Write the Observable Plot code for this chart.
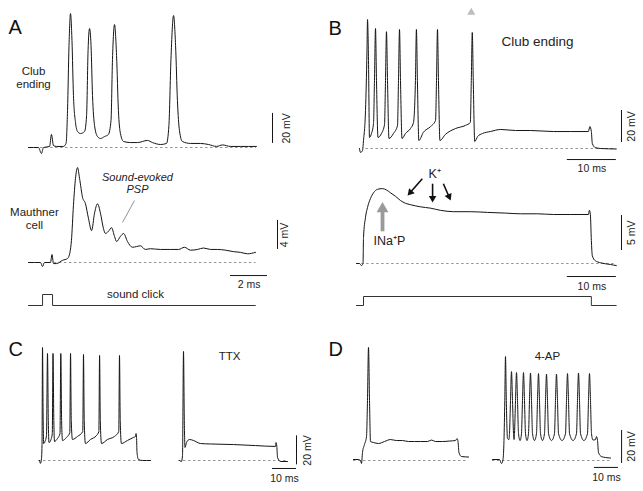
<!DOCTYPE html>
<html><head><meta charset="utf-8">
<script src="https://cdn.jsdelivr.net/npm/d3@7"></script>
<script src="https://cdn.jsdelivr.net/npm/@observablehq/plot@0.6"></script>
<style>
html,body{margin:0;padding:0;background:#fff;}
#fig{position:relative;width:643px;height:491px;overflow:hidden;background:#fff;}
</style></head><body><div id="fig"></div>
<script>
// ---------- DATA: [time (ms), membrane potential (mV)] ----------
const aClub = [[0,0],[0.54,0],[0.70,-4],[0.81,0],[1.14,0.7],[1.24,8.7],[1.35,1.3],[1.51,0.7],[1.89,0.7],[2.03,2.7],[2.11,24.7],[2.19,68],[2.27,89.3],[2.35,71.3],[2.43,34.7],[2.54,16.7],[2.65,10.7],[2.81,9.3],[3.03,10.7],[3.14,21.3],[3.22,64.7],[3.30,79.3],[3.38,68],[3.46,34.7],[3.57,14.7],[3.73,7.3],[3.89,6],[4.11,7.3],[4.32,8.7],[4.46,18],[4.54,58.7],[4.65,82],[4.76,61.3],[4.86,24.7],[4.97,9.3],[5.14,4],[5.51,3.3],[5.89,3.3],[6.43,4.7],[6.70,3.3],[7.14,2],[7.46,2.7],[7.59,14.7],[7.70,58.7],[7.84,88],[7.95,68],[8.05,31.3],[8.16,11.3],[8.32,4],[8.76,2.7],[9.30,2.7],[9.73,2],[10.16,0.7],[10.49,1.7],[10.92,0.7],[11.46,0.7],[12.32,0.7]];
const aMauthner = [[0,0],[0.65,0],[0.76,-0.55],[0.86,0],[1.19,0],[1.27,1.1],[1.35,-0.15],[1.51,-0.15],[1.84,0.3],[2.11,0.55],[2.24,1.4],[2.32,3.0],[2.43,7.9],[2.54,11.6],[2.65,13.1],[2.76,11.6],[2.92,9.0],[3.08,8.1],[3.24,6.1],[3.41,4.4],[3.57,6.8],[3.73,8.1],[3.89,6.8],[4.05,4.7],[4.16,4.0],[4.32,4.3],[4.49,4.8],[4.65,3.6],[4.76,2.9],[4.97,3.6],[5.14,4.0],[5.35,2.9],[5.62,2.1],[5.84,2.2],[6.05,2.3],[6.32,1.8],[6.59,1.9],[7.14,1.8],[7.68,1.8],[8.11,1.8],[8.43,2.1],[8.76,1.7],[9.14,1.8],[9.46,2.0],[9.84,1.8],[10.22,1.8],[10.65,1.7],[11.08,1.5],[11.46,1.4],[11.84,1.2],[12.27,1.4]];
const aClick = [[0,0],[0.76,1],[1.30,0],[12.27,0]];
const bClub = [[-0.82,0],[-0.61,-2.5],[-0.2,-1.25],[0,5],[0.41,23.8],[0.71,61],[0.82,80.6],[1.02,55],[1.22,6.9],[1.63,9.4],[2.04,15.6],[2.24,42.5],[2.45,75],[2.65,42.5],[2.96,6.9],[3.67,9.4],[4.29,15],[4.49,42.5],[4.69,73],[4.9,42.5],[5.2,6.25],[6.12,9.4],[6.94,14.4],[7.14,42.5],[7.35,74.4],[7.55,42.5],[7.86,6.25],[8.57,9.4],[9.59,12.5],[10.2,16.25],[10.6,42.5],[10.8,74.4],[11.0,42.5],[11.3,5],[12.2,10],[13.7,13.75],[14.7,17.5],[14.9,42.5],[15.1,74.4],[15.3,42.5],[15.6,5],[16.7,8.75],[18.8,12.5],[20.8,14.4],[21.8,16.25],[22.0,42.5],[22.2,72.5],[22.4,42.5],[22.7,4.4],[23.3,7.5],[24.3,9.4],[25.9,10.6],[28.0,11.9],[31.0,11.25],[34.1,11.25],[38.8,10.6],[42.2,10.6],[45.9,10.6],[46.2,13.75],[46.5,10.6],[46.7,3.1],[47.3,0.6],[48.4,0],[51.6,-0.3]];
const bSoma = [[-1.43,0],[-0.82,0],[-0.41,-0.3],[-0.1,0],[0,3.7],[0.41,6.6],[0.82,8.0],[1.43,9.3],[2.04,10.1],[2.86,10.6],[3.88,10.7],[4.69,10.5],[5.51,10.1],[6.53,9.6],[7.55,9.0],[8.57,8.6],[9.59,8.4],[11.6,8.1],[13.7,7.9],[15.7,7.6],[18.4,7.4],[21.8,7.4],[25.3,7.3],[29.0,7.2],[32.0,7.1],[35.5,7.1],[38.8,7.0],[42.2,7.0],[45.9,7.0],[46.1,7.6],[46.3,7.0],[46.5,3.3],[46.7,1.1],[47.3,0.4],[48.4,0.1],[50.4,-0.14],[51.6,-0.3]];
const bStep = [[-1.43,0],[0,1],[46.5,0],[51.6,0]];
const cControl = [[-0.83,0],[-0.42,-2],[0,1.4],[0.21,10.3],[0.42,77.9],[0.7,27.6],[0.92,11.7],[1.46,13.1],[2.08,17.2],[2.5,73.8],[2.83,27.6],[3.13,12.4],[3.96,14.5],[4.5,18.6],[4.79,73.8],[5.13,27.6],[5.42,13.1],[6.67,15.2],[7.71,18.6],[8.04,73.8],[8.38,27.6],[8.75,13.8],[10.4,15.9],[11.8,19.3],[12.1,73.8],[12.4,27.6],[12.9,14.5],[15.0,16.6],[17.2,20],[17.5,73.1],[17.8,27.6],[18.3,11.7],[20.4,14.5],[22.9,17.2],[23.9,20],[24.2,72.4],[24.5,27.6],[25.0,11.7],[27.5,14.5],[30.4,16.6],[32.2,20],[32.5,72.4],[32.8,27.6],[33.3,11.7],[35.8,13.8],[38.3,15.9],[39.2,16.6],[39.4,18.6],[39.6,15.9],[39.8,5.5],[40.4,0.7],[42.1,0],[45.4,0]];
const cTTX = [[-1.25,0],[-0.42,-0.7],[0,3.4],[0.42,75.2],[0.75,27.6],[1.04,9.0],[1.67,12.4],[2.92,14.5],[4.58,13.8],[7.5,11.7],[11.7,11.4],[21.25,11.0],[30.4,10.3],[38.75,9.7],[38.96,12.4],[39.3,9.7],[39.6,2.1],[40.8,-0.7],[43.75,-0.7]];
const dControl = [[-3.75,0.6],[-1.67,0.6],[-0.83,0],[-0.42,-1.8],[0,4.8],[0.83,9.7],[1.67,14.5],[2.08,36.4],[2.5,68.5],[2.92,36.4],[3.33,11.5],[4.58,10.9],[6.67,10.3],[9.17,11.5],[11.67,12.7],[14.17,12.1],[16.67,12.1],[19.17,11.5],[21.67,11.5],[24.17,11.5],[27.08,11.5],[28.75,12.4],[30.4,11.5],[33.33,11.5],[36.25,11.8],[38.75,12.1],[39.4,13.3],[39.8,11.5],[40.2,4.8],[41.25,2.4],[44.2,2.1]];
const d4AP = [[-4.58,0.6],[-1.67,0.6],[-0.83,-1.8],[-0.2,0.6],[0.2,12.1],[0.54,36.4],[0.83,63.0],[1.17,36.4],[1.67,13.3],[2.29,12.7],
 [2.5,16.4],[2.92,36.4],[3.33,53.9],[3.75,36.4],[4.17,16.4],[4.4,12.7],
 [4.59,16.4],[5.0,36.4],[5.42,53.3],[5.84,36.4],[6.25,16.4],[6.9,12.1],
 [7.5,16.4],[7.91,36.4],[8.33,53.3],[8.75,36.4],[9.16,16.4],[9.8,12.1],
 [10.42,16.4],[10.83,36.4],[11.25,53.0],[11.67,36.4],[12.08,16.4],[12.9,12.1],
 [13.75,16.4],[14.16,36.4],[14.58,52.7],[15.0,36.4],[15.41,16.4],[16.25,12.1],
 [17.09,16.4],[17.5,36.4],[17.92,52.4],[18.34,36.4],[18.75,16.4],[20.0,12.1],
 [21.25,16.4],[21.66,36.4],[22.08,52.4],[22.5,36.4],[22.91,16.4],[24.4,12.1],
 [25.84,16.4],[26.25,36.4],[26.67,52.7],[27.09,36.4],[27.5,16.4],[29.0,12.1],
 [30.42,16.4],[30.83,36.4],[31.25,53.0],[31.67,36.4],[32.08,16.4],[33.5,12.1],
 [35.0,16.4],[35.41,36.4],[35.83,52.7],[36.25,36.4],[36.66,16.4],[37.3,12.4],
 [38.33,12.7],[38.75,14.5],[39.17,12.1],[39.58,4.8],[40.8,2.4],[42.5,1.8],[44.6,1.5]];

// dashed 0-mV baselines: [start ms, end ms]
const aClubBase = [0.65, 12.32];
const aMauthBase = [1.4, 12.3];
const bClubBase = [0.5, 51.6];
const bSomaBase = [-1.4, 51.6];
const cControlBase = [-1.25, 45.4];
const cTTXBase = [-1.67, 43.75];
const dControlBase = [-3.75, 44.2];
const d4APBase = [-4.58, 44.6];

// scale bar magnitudes
const barsMV = [20, 4, 20, 5, 20, 20];     // A club, A Mauthner, B club, B soma, C, D
const barsMS = [2, 10, 10, 10, 10];        // A, B top, B bottom, C, D
const barLabelsMV = ["20 mV", "4 mV", "20 mV", "5 mV", "20 mV", "20 mV"];
const barLabelsMS = ["2 ms", "10 ms", "10 ms", "10 ms", "10 ms"];

// annotation arrows in panel B (soma): [t1, v1, t2, v2]
const kArrows = [[12.0, 12.1, 9.0, 9.7], [14.1, 11.4, 14.1, 8.7], [16.3, 11.4, 17.8, 9.0]];
const naArrow = [[3.88, 4.6, 3.88, 8.8]];

// text labels
const panelLetters = ["A", "B", "C", "D"];
const traceLabels = ["Club\nending", "Mauthner\ncell", "Sound-evoked\nPSP", "sound click", "Club ending", "K\u207A", "INa\u207AP", "TTX", "4-AP"];

// ---------- DRAWING ----------
const FONT = "'Liberation Sans', Arial, Helvetica, sans-serif";
const INK = "#151515";
const fig = document.getElementById("fig");
const rows = a => a.map(([t, v]) => ({t, v}));

function panel(box, origin, scale, marks) {
  const [L, T, w, h] = box, [ox, oy] = origin, [sx, sy] = scale;
  const svg = Plot.plot({
    width: w, height: h,
    marginTop: 0, marginRight: 0, marginBottom: 0, marginLeft: 0,
    x: {domain: [(L - ox) / sx, (L + w - ox) / sx], axis: null},
    y: {domain: [(oy - (T + h)) / sy, (oy - T) / sy], axis: null},
    style: `position:absolute;left:${L}px;top:${T}px;background:transparent;overflow:visible;max-width:none;font-family:${FONT};`,
    marks
  });
  fig.appendChild(svg);
}
const trace = (d, curve = "monotone-x", stroke = INK) =>
  Plot.line(rows(d), {x: "t", y: "v", stroke, strokeWidth: 1, curve});
const base = ([a, b]) =>
  Plot.ruleY([{a, b}], {y: () => 0, x1: "a", x2: "b", stroke: "#8a8a8a", strokeWidth: 0.9, strokeDasharray: "2.5,2.5"});
const vbar = (t, v0, len) =>
  Plot.ruleX([{t, v1: v0, v2: v0 + len}], {x: "t", y1: "v1", y2: "v2", stroke: INK, strokeWidth: 1});
const hbar = (t0, v, len) =>
  Plot.ruleY([{v, t1: t0, t2: t0 + len}], {y: "v", x1: "t1", x2: "t2", stroke: INK, strokeWidth: 1});
const label = (t, v, text, o = {}) =>
  Plot.text([{t, v, text}], {x: "t", y: "v", text: "text", fill: "#222", fontSize: 12, lineHeight: 1.15, ...o});
const vlab = (t, v, text) => label(t, v, text, {rotate: -90, fontSize: 10.5});
const hlab = (t, v, text) => label(t, v, text, {fontSize: 10.5});
const letter = (t, v, text) => label(t, v, text, {fontSize: 20, textAnchor: "start", fill: "#111"});

// arrows with filled triangular heads; sx, sy = pixels per ms / per mV of the panel
function arrows(list, sx, sy, color, width, r) {
  const half = Math.sqrt(Math.PI * r * r / (3 * Math.sqrt(3))); // centroid-to-base of d3 triangle
  const shafts = [], heads = [];
  for (const [t1, v1, t2, v2] of list) {
    const dx = (t2 - t1) * sx, dy = -(v2 - v1) * sy, len = Math.hypot(dx, dy);
    const ux = dx / len, uy = dy / len;
    const tc = t2 - 2 * half * ux / sx, vc = v2 + 2 * half * uy / sy;
    shafts.push({t1, v1, t2: tc, v2: vc});
    heads.push({t: tc, v: vc, a: Math.atan2(ux, -uy) * 180 / Math.PI});
  }
  return [
    Plot.link(shafts, {x1: "t1", y1: "v1", x2: "t2", y2: "v2", stroke: color, strokeWidth: width}),
    Plot.dot(heads, {x: "t", y: "v", rotate: "a", symbol: "triangle", r, fill: color, stroke: "none"})
  ];
}

// Panel A — club ending
panel([0, 0, 300, 158], [28, 147], [18.5, 1.5], [
  base(aClubBase), trace(aClub),
  vbar(13.19, 2.7, barsMV[0]), vlab(13.95, 12.7, barLabelsMV[0]),
  letter(-1.08, 80.7, panelLetters[0]),
  label(0.27, 46.7, traceLabels[0], {fontSize: 11.5})
]);
// Panel A — Mauthner cell
panel([0, 158, 300, 132], [28, 262], [18.5, 7.25], [
  base(aMauthBase), trace(aMauthner),
  vbar(13.46, 1.8, barsMV[1]), vlab(13.84, 3.8, barLabelsMV[1]),
  hbar(10.92, -1.8, barsMS[0]), hlab(11.92, -3.0, barLabelsMS[0]),
  label(0.32, 6.1, traceLabels[1], {fontSize: 11.5}),
  label(5.89, 11.0, traceLabels[2], {fontStyle: "italic", fontSize: 11, lineHeight: 1.1}),
  Plot.link([{t1: 5.73, v1: 8.55, t2: 5.08, v2: 5.52}], {x1: "t1", y1: "v1", x2: "t2", y2: "v2", stroke: "#777", strokeWidth: 0.8})
]);
// Panel A — sound click
panel([0, 290, 300, 20], [28, 305], [18.5, 11], [
  trace(aClick, "step-after", "#333"),
  label(5.78, 1.1, traceLabels[3], {fontSize: 11.5})
]);

// Panel B — club ending
panel([320, 0, 323, 170], [363, 148], [4.9, 1.6], [
  base(bClubBase), trace(bClub),
  Plot.dot([{t: 22.0, v: 85}], {x: "t", y: "v", symbol: "triangle", r: 3, fill: "#bdbdbd", stroke: "none"}),
  label(35.5, 66.9, traceLabels[4], {fontSize: 13.5}),
  letter(-7.14, 75.6, panelLetters[1]),
  vbar(52.65, 3.75, barsMV[2]), vlab(54.7, 13.75, barLabelsMV[2]),
  hbar(41.6, -6.9, barsMS[1]), hlab(46.6, -12.5, barLabelsMS[1])
]);
// Panel B — soma response
panel([320, 170, 323, 115], [363, 263], [4.9, 7], [
  base(bSomaBase), trace(bSoma),
  vbar(52.65, 1.86, barsMV[3]), vlab(54.7, 4.4, barLabelsMV[3]),
  hbar(41.6, -1.86, barsMS[2]), hlab(46.6, -3.3, barLabelsMS[2]),
  label(14.5, 12.9, traceLabels[5], {fontSize: 12.5}),
  ...arrows(kArrows, 4.9, 7, "#111", 1.6, 2.8),
  ...arrows(naArrow, 4.9, 7, "#9a9a9a", 3.8, 4.4),
  label(5.3, 3.3, traceLabels[6], {fontSize: 12.5})
]);
// Panel B — current step
panel([320, 292, 323, 18], [363, 305], [4.9, 9], [
  trace(bStep, "step-after", "#333")
]);

// Panel C
panel([0, 330, 170, 161], [41, 460], [2.4, 1.45], [
  base(cControlBase), trace(cControl),
  letter(-13.75, 77.2, panelLetters[2])
]);
panel([170, 330, 150, 161], [182, 460], [2.4, 1.45], [
  base(cTTXBase), trace(cTTX),
  label(19.6, 72.4, traceLabels[7], {fontSize: 11.5}),
  vbar(47.5, -3, barsMV[4]), vlab(51.9, 6.9, barLabelsMV[4]),
  hbar(37.5, -5.5, barsMS[3]), hlab(42.5, -12.4, barLabelsMS[3])
]);

// Panel D
panel([320, 330, 150, 161], [362, 460], [2.4, 1.65], [
  base(dControlBase), trace(dControl),
  letter(-14.2, 67.9, panelLetters[3])
]);
panel([470, 330, 173, 161], [503, 460], [2.4, 1.65], [
  base(d4APBase), trace(d4AP),
  label(18.3, 63.6, traceLabels[8], {fontSize: 11.5}),
  vbar(49.2, -1.8, barsMV[5]), vlab(53.1, 8.5, barLabelsMV[5]),
  hbar(37.9, -4.2, barsMS[4]), hlab(42.9, -10.3, barLabelsMS[4])
]);
</script></body></html>
